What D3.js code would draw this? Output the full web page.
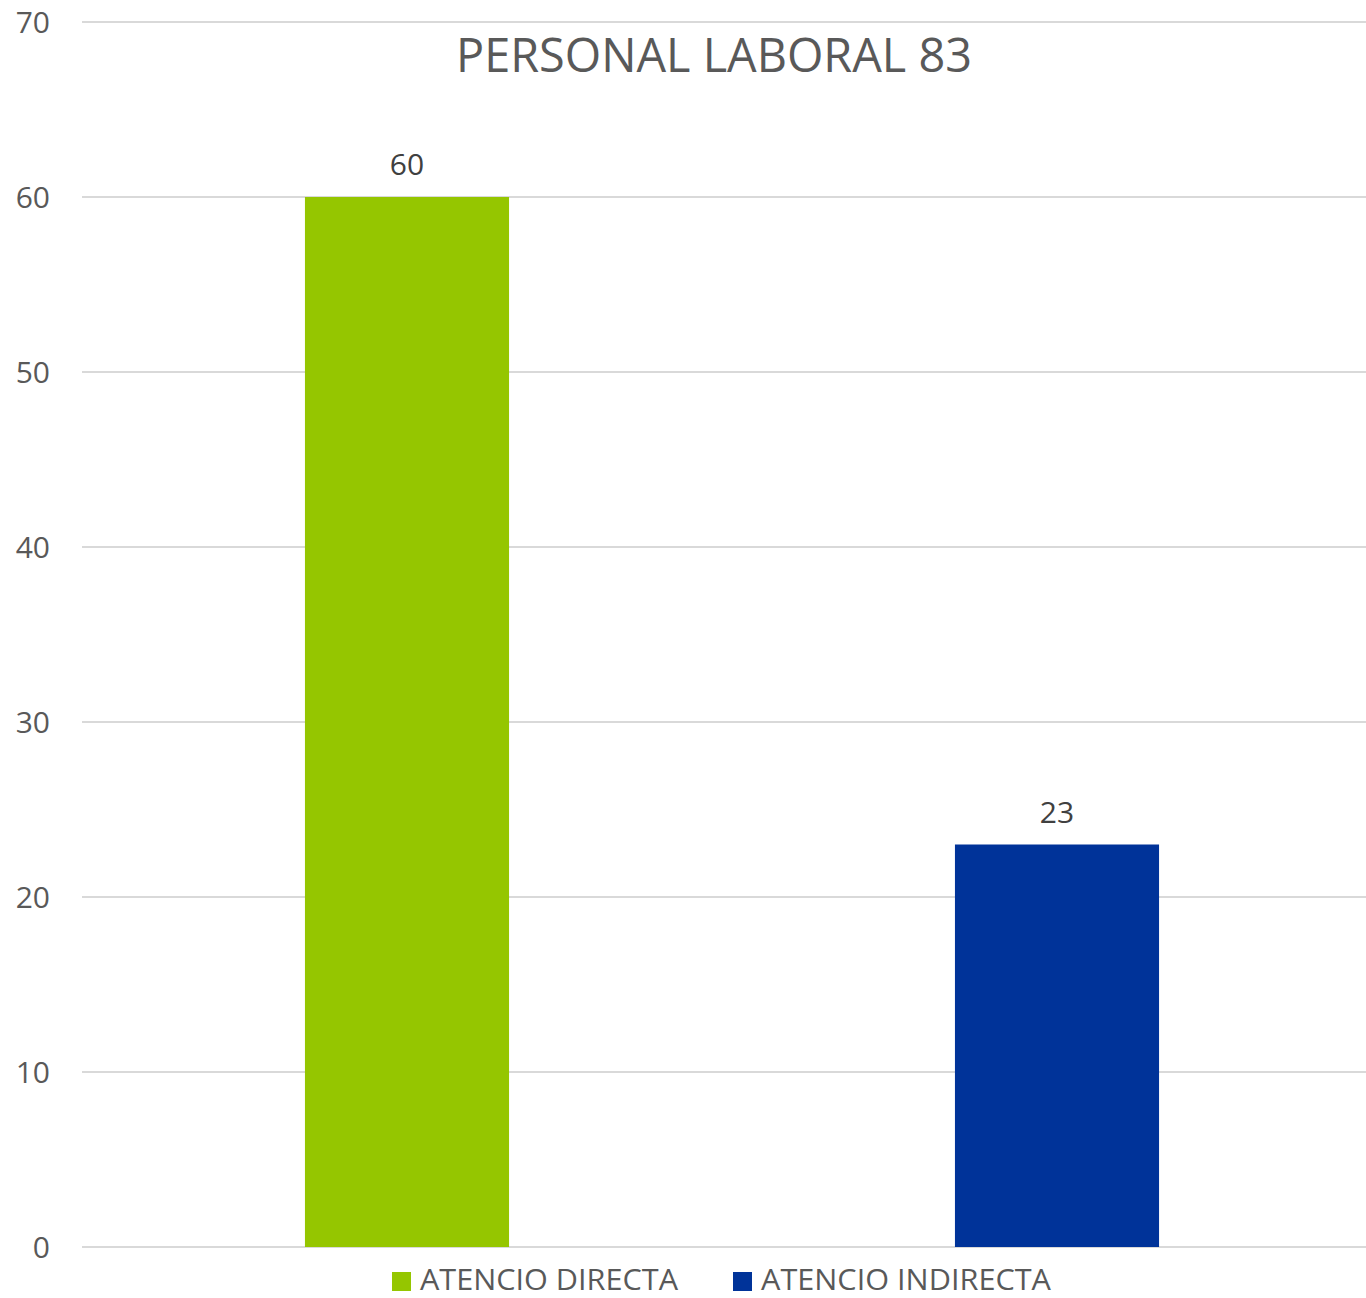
<!DOCTYPE html>
<html><head><meta charset="utf-8">
<script src="https://cdn.jsdelivr.net/npm/d3@7"></script>
<style>body{margin:0;background:#fff}svg{display:block}text{font-family:"Open Sans",sans-serif}</style>
</head><body>
<svg id="c" width="1366" height="1298"></svg>
<script>
const title = "PERSONAL LABORAL 83";
const series = ["ATENCIO DIRECTA", "ATENCIO INDIRECTA"];
const values = [60, 23];
const colors = ["#95c600", "#003399"];
const yTicks = [0, 10, 20, 30, 40, 50, 60, 70];

const svg = d3.select("#c");
const y = d3.scaleLinear().domain([0, 70]).range([1247, 22]);
const x = d3.scaleBand().domain(series).range([82, 1382]).paddingInner(0.686).paddingOuter(0.343);

// gridlines
svg.append("g").selectAll("line").data(yTicks).join("line")
  .attr("x1", 82).attr("x2", 1366)
  .attr("y1", d => y(d)).attr("y2", d => y(d))
  .attr("stroke", "#d9d9d9").attr("stroke-width", 2);

// y axis labels
const ax = svg.append("g").attr("transform", "translate(50,0)")
  .call(d3.axisLeft(y).tickValues(yTicks).tickSize(0).tickPadding(0));
ax.select(".domain").remove();
ax.selectAll("text").attr("font-size", 30).attr("fill", "#595959")
  .attr("font-family", "'Open Sans',sans-serif").attr("dy", "0.35em");

// bars
svg.append("g").selectAll("rect").data(series).join("rect")
  .attr("x", d => x(d)).attr("width", x.bandwidth())
  .attr("y", (d, i) => y(values[i])).attr("height", (d, i) => y(0) - y(values[i]))
  .attr("fill", (d, i) => colors[i]);

// data labels
svg.append("g").selectAll("text").data(series).join("text")
  .attr("x", d => x(d) + x.bandwidth() / 2)
  .attr("y", (d, i) => y(values[i]) - 22)
  .attr("text-anchor", "middle").attr("font-size", 30).attr("fill", "#404040")
  .text((d, i) => values[i]);

// title
svg.append("text").attr("x", 714).attr("y", 72).attr("text-anchor", "middle")
  .attr("font-size", 48).attr("fill", "#595959")
  .attr("textLength", 516).attr("lengthAdjust", "spacingAndGlyphs").text(title);

// legend
const legX = [392, 733], legW = [258, 290];
const lg = svg.append("g").selectAll("g").data(series).join("g");
lg.append("rect").attr("x", (d, i) => legX[i]).attr("y", 1272).attr("width", 19).attr("height", 19)
  .attr("fill", (d, i) => colors[i]);
lg.append("text").attr("x", (d, i) => legX[i] + 28).attr("y", 1290)
  .attr("font-size", 29).attr("fill", "#595959")
  .attr("textLength", (d, i) => legW[i]).attr("lengthAdjust", "spacingAndGlyphs")
  .text(d => d);
</script>
</body></html>
